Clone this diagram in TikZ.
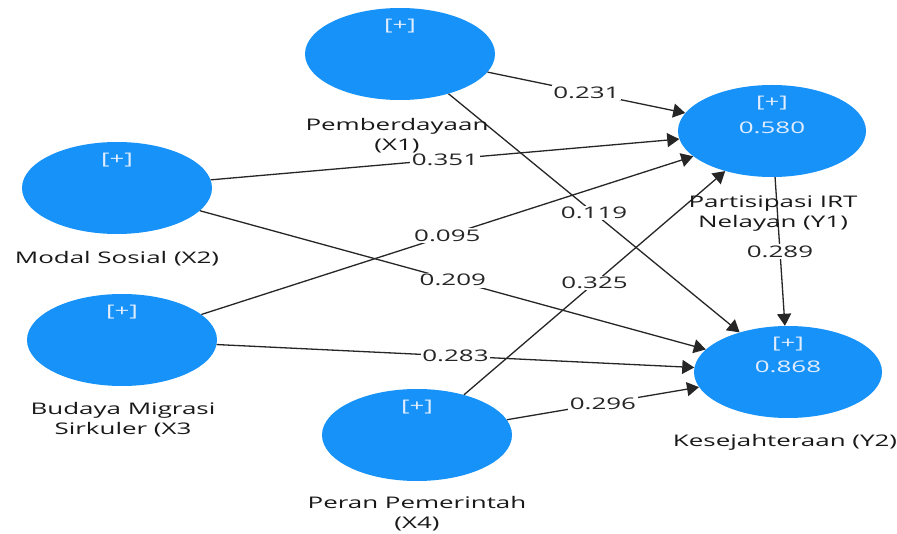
\documentclass[tikz,border=0pt]{standalone}
\usepackage{fontspec}
\setmainfont{Open Sans}[FakeStretch=1.62]
\usetikzlibrary{shapes.geometric,arrows.meta}
\definecolor{plsblue}{RGB}{22,146,248}
\definecolor{plstext}{RGB}{226,238,255}
\begin{document}
\begin{tikzpicture}[x=1pt,y=-1pt,
  lv/.style={ellipse,fill=plsblue,minimum width=190pt,minimum height=92pt,inner sep=0pt},
  lvtext/.style={text=plstext,inner sep=0pt},
  lvname/.style={align=center,text=black!90,inner sep=0pt},
  link/.style={-{Triangle[length=12pt,width=14pt]},line width=1.3pt,black!85},
  coef/.style={fill=white,inner sep=1.5pt,text=black!85}]
\fontsize{16}{20}\selectfont
\fill [white] (0,0) rectangle (897,534);
\useasboundingbox (0,0) rectangle (897,534);
% latent variables
\node [lv] (x1) at (400,54) {};
\node [lv] (x2) at (117,188) {};
\node [lv] (x3) at (122,340) {};
\node [lv] (x4) at (417,435) {};
\node [lv,minimum width=188pt] (y1) at (772,131) {};
\node [lv,minimum width=188pt] (y2) at (788,372) {};
\foreach \v in {x1,x2,x3,x4,y1,y2}
  \node [lvtext] at ([yshift=28pt]\v.center) {[+]};
\node [lvtext] at ([yshift=3pt]y1.center) {0.580};
\node [lvtext] at ([yshift=5pt]y2.center) {0.868};
% paths
\draw [link] (x1) -- node [coef]{0.231} (y1);
\draw [link] (x1) -- node [coef]{0.119} (y2);
\draw [link] (x2) -- node [coef]{0.351} (y1);
\draw [link] (x2) -- node [coef]{0.209} (y2);
\draw [link] (x3) -- node [coef]{0.095} (y1);
\draw [link] (x3) -- node [coef]{0.283} (y2);
\draw [link] (x4) -- node [coef]{0.325} (y1);
\draw [link] (x4) -- node [coef]{0.296} (y2);
\draw [link] (y1) -- node [coef]{0.289} (y2);
% names
\node [lvname] (x1n) at (397,136) {Pemberdayaan\\(X1)};
\node [lvname] (x2n) at (117,259) {Modal Sosial (X2)};
\node [lvname] (x3n) at (123,420) {Budaya Migrasi\\Sirkuler (X3};
\node [lvname] (x4n) at (417,514) {Peran Pemerintah\\(X4)};
\node [lvname] (y1n) at (773,214) {Partisipasi IRT\\Nelayan (Y1)};
\node [lvname] (y2n) at (785,442) {Kesejahteraan (Y2)};
\end{tikzpicture}
\end{document}
